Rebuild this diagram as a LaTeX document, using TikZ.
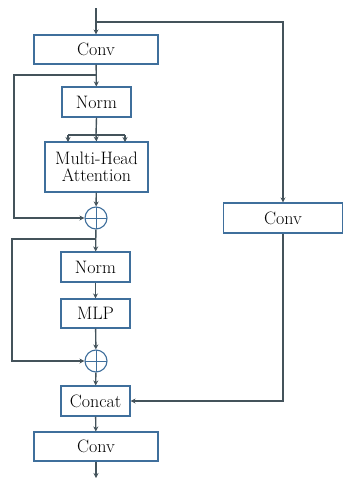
\documentclass[tikz,border=0pt]{standalone}
\usetikzlibrary{positioning,arrows.meta}
\definecolor{boxblue}{HTML}{3F6F9C}
\definecolor{lineslate}{HTML}{44535B}
\tikzset{
	every picture/.style={/utils/exec={\fontsize{18}{21}\selectfont}},
	block/.style={draw=boxblue, line width=1.1pt, rectangle, minimum height=29pt, inner sep=2pt, align=center, font=\fontsize{18}{21}\selectfont},
	addop/.style={draw=boxblue, line width=1.1pt, circle, minimum size=22pt, inner sep=0pt,
		path picture={\draw[boxblue, line width=1pt] (path picture bounding box.north) -- (path picture bounding box.south)
			(path picture bounding box.west) -- (path picture bounding box.east);}},
	flow/.style={draw=lineslate, line width=1.4pt, -{Stealth[length=5pt,width=5pt]}},
	wire/.style={draw=lineslate, line width=1.4pt},
}

\begin{document}
\begin{tikzpicture}[x=1pt, y=-1pt]
	\useasboundingbox (0,0) rectangle (343,480);
	\coordinate (input) at (96,8);
	\coordinate (fork) at (96,22);
	\coordinate (output) at (96,478);

	\node[block, minimum width=124pt] (convin) at (96,49.5) {Conv};
	\node[block, minimum width=69pt, minimum height=30pt] (normA) at (96.5,102) {Norm};
	\node[block, minimum width=103pt, minimum height=50pt] (attn) at (96.5,167) {Multi-Head\\[-4pt]Attention};
	\node[addop] (addA) at (96,218) {};
	\node[block, minimum width=69pt, minimum height=30pt] (normB) at (95.5,267) {Norm};
	\node[block, minimum width=69pt] (mlp) at (95.5,313.5) {MLP};
	\node[addop] (addB) at (96,361) {};
	\node[block, minimum width=69pt, minimum height=30pt] (concat) at (95.5,401) {Concat};
	\node[block, minimum width=124pt] (convout) at (96,446.5) {Conv};
	\node[block, minimum width=119pt, minimum height=30pt] (convside) at (283,218) {Conv};

	% main path
	\path[flow] (input) -- (convin.north);
	\path[flow] (convin) -- (normA);
	\path[wire] (normA.south) -- (96,135);
	\path[wire] (68,135) -- (125,135);
	\path[flow] (68,135) -- (68,142);
	\path[flow] (96,135) -- (attn.north);
	\path[flow] (125,135) -- (125,142);
	\path[flow] (attn) -- (addA);
	\path[flow] (addA) -- (normB);
	\path[flow] (normB) -- (mlp);
	\path[flow] (mlp) -- (addB);
	\path[flow] (addB) -- (concat);
	\path[flow] (concat) -- (convout);
	\path[flow] (convout.south) -- (output);

	% residual connections
	\path[flow] (96,75) -- (14,75) |- (addA.west);
	\path[flow] (96,239) -- (12,239) |- (addB.west);

	% side branch
	\path[flow] (fork) -| (convside.north);
	\path[flow] (convside.south) |- (concat.east);
\end{tikzpicture}
\end{document}
